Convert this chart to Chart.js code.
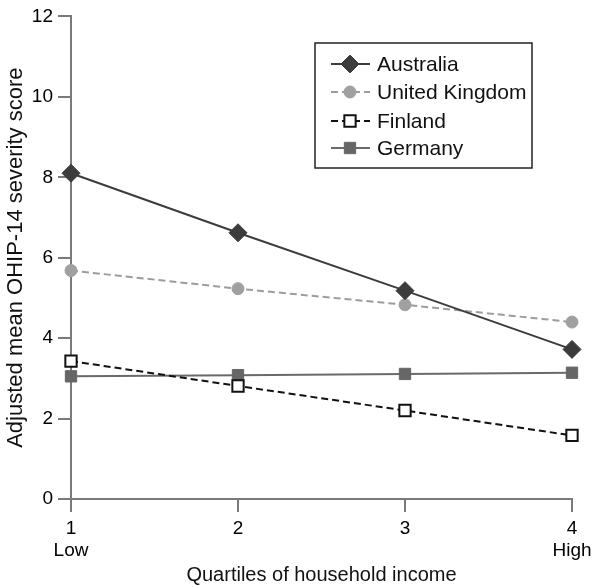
<!DOCTYPE html>
<html>
<head>
<meta charset="utf-8">
<script src="https://cdn.jsdelivr.net/npm/chart.js@4/dist/chart.umd.min.js"></script>
<style>
  html, body { margin: 0; padding: 0; background: #fff; }
  #wrap { width: 601px; height: 587px; }
</style>
</head>
<body>
<div id="wrap"><canvas id="c" width="601" height="587"></canvas></div>
<script>
// quartiles of household income
var quartiles = [1, 2, 3, 4];
var quartileNames = ["Low", "", "", "High"];

// adjusted mean OHIP-14 severity scores
var australia = [8.1, 6.62, 5.18, 3.72];
var unitedKingdom = [5.68, 5.23, 4.83, 4.4];
var finland = [3.43, 2.81, 2.2, 1.58];
var germany = [3.05, 3.08, 3.11, 3.14];

var yTicks = [0, 2, 4, 6, 8, 10, 12];

function pts(vals) {
  return vals.map(function(v, i) { return { x: quartiles[i], y: v }; });
}

var font = "'Liberation Sans', Arial, sans-serif";

function drawMarker(ctx, ds, x, y) {
  ctx.save();
  ctx.fillStyle = ds.pointBackgroundColor;
  ctx.strokeStyle = ds.pointBorderColor;
  ctx.lineWidth = ds.pointBorderWidth;
  ctx.setLineDash([]);
  Chart.helpers.drawPoint(ctx, {
    pointStyle: ds.pointStyle,
    radius: ds.pointRadius,
    rotation: 0,
    borderWidth: ds.pointBorderWidth
  }, x, y);
  ctx.restore();
}

// legend drawn inside the plot, in a framed box
var boxLegend = {
  id: "boxLegend",
  afterDraw: function(chart) {
    var ctx = chart.ctx;
    var x0 = 315, y0 = 43, w = 217, h = 125;
    ctx.save();
    ctx.fillStyle = "#fff";
    ctx.fillRect(x0, y0, w, h);
    ctx.strokeStyle = "#222";
    ctx.lineWidth = 1.5;
    ctx.strokeRect(x0, y0, w, h);
    var rows = [64, 92, 121, 148];
    chart.data.datasets.forEach(function(ds, i) {
      var y = rows[i];
      ctx.save();
      ctx.strokeStyle = ds.borderColor;
      ctx.lineWidth = ds.borderWidth;
      ctx.setLineDash(ds.borderDash || []);
      ctx.beginPath();
      ctx.moveTo(331, y);
      ctx.lineTo(370, y);
      ctx.stroke();
      ctx.restore();
      drawMarker(ctx, ds, 350, y);
      ctx.fillStyle = "#111";
      ctx.font = "21px " + font;
      ctx.textBaseline = "middle";
      ctx.textAlign = "left";
      ctx.fillText(ds.label, 377, y + 1);
    });
    ctx.restore();
  }
};

new Chart(document.getElementById("c"), {
  type: "line",
  data: {
    datasets: [
      {
        label: "Australia",
        data: pts(australia),
        borderColor: "#3c3c3c",
        borderWidth: 2,
        pointStyle: "rectRot",
        pointRadius: 9,
        pointBackgroundColor: "#3c3c3c",
        pointBorderColor: "#3c3c3c",
        pointBorderWidth: 1
      },
      {
        label: "United Kingdom",
        data: pts(unitedKingdom),
        borderColor: "#9c9c9c",
        borderWidth: 2,
        borderDash: [7, 4],
        pointStyle: "circle",
        pointRadius: 6,
        pointBackgroundColor: "#a0a0a0",
        pointBorderColor: "#a0a0a0",
        pointBorderWidth: 1
      },
      {
        label: "Finland",
        data: pts(finland),
        borderColor: "#111",
        borderWidth: 2,
        borderDash: [7, 4],
        pointStyle: "rect",
        pointRadius: 8,
        pointBackgroundColor: "#fff",
        pointBorderColor: "#111",
        pointBorderWidth: 2
      },
      {
        label: "Germany",
        data: pts(germany),
        borderColor: "#6a6a6a",
        borderWidth: 2,
        pointStyle: "rect",
        pointRadius: 8,
        pointBackgroundColor: "#666",
        pointBorderColor: "#666",
        pointBorderWidth: 1
      }
    ]
  },
  options: {
    responsive: false,
    animation: false,
    layout: { padding: { top: 13, right: 29, left: 0, bottom: 0 } },
    elements: { line: { tension: 0 } },
    datasets: { line: { clip: false } },
    plugins: {
      legend: { display: false },
      tooltip: { enabled: false }
    },
    scales: {
      x: {
        type: "linear",
        min: 1,
        max: 4,
        afterBuildTicks: function(scale) {
          scale.ticks = quartiles.map(function(q) { return { value: q }; });
        },
        afterFit: function(scale) { scale.height = 88; },
        border: { color: "#7a7a7a", width: 2 },
        grid: { drawOnChartArea: false, drawTicks: true, tickLength: 13, color: "#7a7a7a", lineWidth: 2 },
        ticks: {
          padding: 5,
          color: "#000",
          font: { family: font, size: 19 },
          maxRotation: 0,
          callback: function(v) {
            var i = quartiles.indexOf(v);
            return quartileNames[i] ? [String(v), quartileNames[i]] : String(v);
          }
        },
        title: {
          display: true,
          text: "Quartiles of household income",
          color: "#111",
          font: { family: font, size: 20 },
          padding: { top: 2, bottom: 0 }
        }
      },
      y: {
        min: 0,
        max: 12,
        afterBuildTicks: function(scale) {
          scale.ticks = yTicks.map(function(t) { return { value: t }; });
        },
        afterFit: function(scale) { scale.width = 71; },
        border: { color: "#7a7a7a", width: 2 },
        grid: { drawOnChartArea: false, drawTicks: true, tickLength: 13, color: "#7a7a7a", lineWidth: 2 },
        ticks: {
          padding: 5,
          color: "#000",
          font: { family: font, size: 19 }
        },
        title: {
          display: true,
          text: "Adjusted mean OHIP-14 severity score",
          color: "#111",
          font: { family: font, size: 22 },
          padding: { top: 3, bottom: 2 }
        }
      }
    }
  },
  plugins: [boxLegend]
});
</script>
</body>
</html>
